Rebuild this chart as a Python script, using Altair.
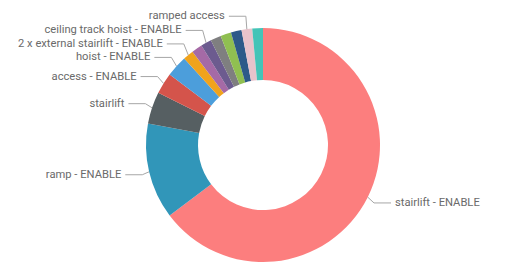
import altair as alt
import pandas as pd
import numpy as np

# ---- data ----
categories = [
    "stairlift - ENABLE",
    "ramp - ENABLE",
    "stairlift",
    "access - ENABLE",
    "hoist - ENABLE",
    "2 x external stairlift - ENABLE",
    "through floor lift - ENABLE",
    "ceiling track hoist - ENABLE",
    "level access shower - ENABLE",
    "hoist",
    "ramp",
    "ramped access",
    "stairlift - CARE",
]
values = [44, 9, 3, 2, 2, 1, 1, 1, 1, 1, 1, 1, 1]
shown = [True, True, True, True, True, True, False, True, False, False, False, True, False]
colors = [
    "#FC7E7E", "#3196B9", "#565F62", "#D4544B", "#4C9EDB", "#F0A31C", "#A56AA6",
    "#6C5B8F", "#7F7F80", "#90BF51", "#2D5A89", "#E8C3CB", "#44C4B7",
]

# ---- layout constants (view pixels) ----
CX, CY = 255, 137
R_OUT, R_IN = 117, 65
EX, EY = 124, 130      # elbow radii of the leader lines
HSEG = 17              # horizontal part of a leader line
GAP = 4                # gap between line and text
MIN_SPACING = 13.5
FONT_SIZE = 11.2

df = pd.DataFrame({"category": categories, "value": values, "idx": range(len(values))})

# label geometry derived from the data
total = float(sum(values))
cum = np.cumsum(values)
mid = (cum - np.array(values) / 2.0) / total * 2 * np.pi

lab = []
for i, (c, a) in enumerate(zip(categories, mid)):
    if not shown[i]:
        continue
    s, co = np.sin(a), np.cos(a)
    lab.append(dict(category=c, ex=CX + R_OUT * s, ey=CY - R_OUT * co,
                    kx=CX + EX * s, ky=CY - EY * co, left=s < 0))

# simple collision avoidance on the left side: push labels upward
left = sorted([l for l in lab if l["left"]], key=lambda d: -d["ky"])
prev = None
for l in left:
    if prev is not None and l["ky"] > prev - MIN_SPACING:
        l["ky"] = prev - MIN_SPACING
    prev = l["ky"]

line_rows, text_rows = [], []
for l in lab:
    sgn = -1 if l["left"] else 1
    hx = l["kx"] + sgn * HSEG
    for k, (x, y) in enumerate([(l["ex"], l["ey"]), (l["kx"], l["ky"]), (hx, l["ky"])]):
        line_rows.append(dict(category=l["category"], step=k, x=x, y=y))
    text_rows.append(dict(category=l["category"], x=hx + sgn * GAP, y=l["ky"],
                          side="left" if l["left"] else "right"))

lines = pd.DataFrame(line_rows)
texts = pd.DataFrame(text_rows)

donut = alt.Chart(df).mark_arc(innerRadius=R_IN, outerRadius=R_OUT, strokeWidth=0).encode(
    theta=alt.Theta("value:Q", stack=True),
    order=alt.Order("idx:Q"),
    color=alt.Color("category:N", scale=alt.Scale(domain=categories, range=colors), legend=None),
    x=alt.value(CX),
    y=alt.value(CY),
)

leaders = alt.Chart(lines).mark_line(color="#A6A6A6", strokeWidth=1).encode(
    x=alt.X("x:Q", scale=None),
    y=alt.Y("y:Q", scale=None),
    detail="category:N",
    order="step:Q",
)

text_left = alt.Chart(texts[texts.side == "left"]).mark_text(
    align="right", baseline="middle", font="Roboto", fontSize=FONT_SIZE, color="#6A6A6A"
).encode(x=alt.X("x:Q", scale=None), y=alt.Y("y:Q", scale=None), text="category:N")

text_right = alt.Chart(texts[texts.side == "right"]).mark_text(
    align="left", baseline="middle", font="Roboto", fontSize=FONT_SIZE, color="#6A6A6A"
).encode(x=alt.X("x:Q", scale=None), y=alt.Y("y:Q", scale=None), text="category:N")

chart = alt.layer(donut, leaders, text_left, text_right).properties(
    width=488, height=250, padding=0
).configure_view(stroke=None)

chart.save("out.html", embed_options={"renderer": "svg", "actions": False})
